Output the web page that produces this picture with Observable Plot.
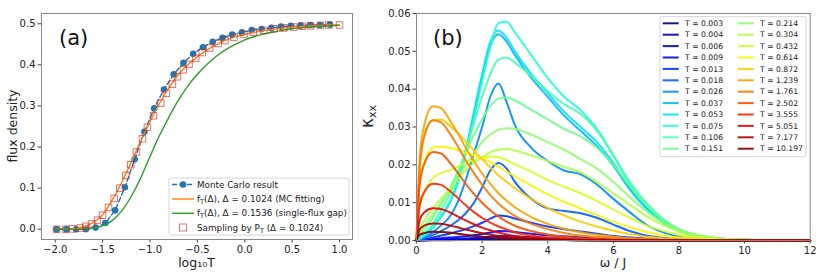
<!DOCTYPE html>
<html><head><meta charset="utf-8">
<script src="https://cdn.jsdelivr.net/npm/d3@7"></script>
<script src="https://cdn.jsdelivr.net/npm/@observablehq/plot@0.6"></script>
<style>
body{margin:0;background:#fff;font-family:"DejaVu Sans",sans-serif;}
#wrap{position:relative;width:830px;height:277px;overflow:hidden;}
#a{position:absolute;left:0;top:0;}
#b{position:absolute;left:365px;top:0;}
</style></head><body><div id="wrap"><div id="a"></div><div id="b"></div></div>
<script>
// ---------- Panel (a) data ----------
const mcLogT = [-1.986,-1.883,-1.780,-1.677,-1.574,-1.471,-1.368,-1.265,-1.162,-1.059,-0.956,-0.853,-0.750,-0.647,-0.544,-0.441,-0.338,-0.235,-0.132,-0.029,0.074,0.177,0.280,0.383,0.486,0.589,0.692,0.795,0.898];
const mcFlux = [0,0,0,0,0.004,0.015,0.046,0.102,0.170,0.237,0.294,0.340,0.377,0.405,0.427,0.443,0.456,0.466,0.474,0.479,0.485,0.487,0.490,0.493,0.495,0.496,0.497,0.497,0.498];
const fitLogT = [-2.0,-1.9,-1.8,-1.7,-1.6,-1.5,-1.4,-1.3,-1.2,-1.1,-1.0,-0.9,-0.8,-0.7,-0.6,-0.5,-0.4,-0.3,-0.2,-0.1,0.0,0.1,0.2,0.3,0.4,0.5,0.6,0.7,0.8,0.9,1.0];
const fitMC = [0.000,0.000,0.001,0.006,0.016,0.035,0.070,0.113,0.162,0.214,0.262,0.306,0.344,0.376,0.400,0.420,0.436,0.449,0.460,0.468,0.474,0.479,0.483,0.487,0.489,0.492,0.493,0.495,0.496,0.497,0.497];
const fitGap = [0,0,0,0.0005,0.003,0.008,0.021,0.044,0.079,0.124,0.177,0.228,0.273,0.314,0.349,0.377,0.401,0.421,0.437,0.450,0.461,0.469,0.475,0.480,0.484,0.488,0.490,0.492,0.494,0.495,0.496];
const sampLogT = [-1.986,-1.888,-1.817,-1.737,-1.677,-1.617,-1.554,-1.501,-1.438,-1.378,-1.319,-1.255,-1.203,-1.143,-1.080,-1.027,-0.964,-0.887,-0.827,-0.764,-0.710,-0.648,-0.588,-0.518,-0.447,-0.370,-0.282,-0.209,-0.114,-0.008,0.090,0.202,0.308,0.413,0.518,0.606,0.694,0.800,0.887,1.000];
const sampFlux = [0.000,0.000,0.001,0.003,0.007,0.013,0.022,0.034,0.053,0.075,0.100,0.131,0.157,0.188,0.220,0.248,0.276,0.307,0.331,0.353,0.371,0.388,0.401,0.416,0.430,0.441,0.452,0.459,0.467,0.474,0.480,0.484,0.488,0.490,0.492,0.494,0.495,0.496,0.497,0.497];
const aXTicks = [-2.0,-1.5,-1.0,-0.5,0.0,0.5,1.0];
const aYTicks = [0.0,0.1,0.2,0.3,0.4,0.5];

// ---------- Panel (b) data ----------
const temps = ["0.003","0.004","0.006","0.009","0.013","0.018","0.026","0.037","0.053","0.075","0.106","0.151","0.214","0.304","0.432","0.614","0.872","1.239","1.761","2.502","3.555","5.051","7.177","10.197"];
const omega = [0,0.1,0.25,0.5,0.75,1,1.25,1.5,1.75,2,2.25,2.5,2.75,3,3.5,4,4.5,5,5.5,6,6.5,7,7.5,8,9,10,12];
// kappa_xx in units of 1e-2
const k003 = [0,0,0.003,0.005,0.007,0.009,0.011,0.013,0.016,0.019,0.023,0.027,0.027,0.025,0.02,0.015,0.011,0.008,0.006,0.004,0.002,0.001,0,0,0,0,0];
const k004 = [0,0.002,0.005,0.01,0.014,0.018,0.022,0.027,0.033,0.04,0.05,0.058,0.057,0.052,0.042,0.032,0.024,0.018,0.013,0.008,0.005,0.003,0.001,0,0,0,0];
const k006 = [0,0.005,0.012,0.022,0.03,0.038,0.046,0.055,0.066,0.08,0.1,0.12,0.118,0.108,0.088,0.068,0.052,0.04,0.03,0.02,0.012,0.007,0.004,0.002,0,0,0];
const k009 = [0,0.01,0.025,0.045,0.062,0.078,0.095,0.115,0.14,0.17,0.21,0.25,0.245,0.225,0.18,0.14,0.11,0.085,0.062,0.042,0.026,0.015,0.008,0.004,0.001,0,0];
const k013 = [0,0.01,0.03,0.08,0.13,0.18,0.24,0.3,0.38,0.47,0.58,0.66,0.64,0.58,0.47,0.37,0.3,0.24,0.18,0.12,0.08,0.05,0.03,0.015,0.005,0,0];
const k018 = [0,0.02,0.06,0.15,0.25,0.37,0.52,0.72,1.0,1.4,1.85,2.05,1.9,1.55,1.1,0.85,0.78,0.72,0.6,0.42,0.25,0.13,0.07,0.035,0.01,0,0];
const k026 = [0,0.03,0.08,0.22,0.4,0.62,1.0,1.6,2.3,3.0,3.8,4.15,3.65,3.05,2.45,2.1,1.85,1.75,1.48,1.1,0.75,0.42,0.22,0.1,0.02,0,0];
const k037 = [0,0.05,0.14,0.34,0.63,0.97,1.5,2.33,3.3,4.3,5.15,5.45,5.25,4.9,4.3,3.8,3.3,2.9,2.5,1.98,1.35,0.85,0.48,0.25,0.06,0.02,0];
const k053 = [0,0.05,0.15,0.35,0.65,1.0,1.55,2.4,3.4,4.4,5.25,5.55,5.35,5.0,4.4,3.9,3.4,3.0,2.6,2.05,1.4,0.88,0.5,0.26,0.06,0.02,0];
const k075 = [0,0.05,0.15,0.35,0.65,1.0,1.5,2.3,3.2,4.2,5.1,5.75,5.78,5.5,4.9,4.3,3.8,3.45,2.95,2.25,1.5,0.95,0.53,0.27,0.07,0.02,0];
const k106 = [0,0.1,0.2,0.45,0.8,1.2,1.7,2.4,3.1,3.8,4.4,4.78,4.84,4.7,4.35,3.95,3.6,3.35,2.9,2.25,1.55,1.0,0.58,0.3,0.08,0.02,0];
const k151 = [0,0.15,0.3,0.6,0.95,1.35,1.8,2.3,2.8,3.2,3.55,3.75,3.78,3.7,3.45,3.2,2.95,2.75,2.45,2.0,1.45,0.95,0.57,0.3,0.08,0.02,0];
const k214 = [0,0.2,0.4,0.7,1.0,1.3,1.65,2.0,2.3,2.6,2.8,2.93,2.97,2.95,2.8,2.6,2.4,2.15,1.9,1.55,1.15,0.78,0.48,0.27,0.08,0.02,0];
const k304 = [0,0.3,0.55,0.85,1.1,1.35,1.6,1.85,2.05,2.2,2.33,2.4,2.42,2.38,2.25,2.1,1.95,1.8,1.55,1.25,0.95,0.65,0.42,0.24,0.07,0.02,0];
const k432 = [0,0.9,1.3,1.65,1.78,1.85,1.95,2.05,2.12,2.18,2.22,2.2,2.12,2.02,1.82,1.6,1.42,1.25,1.05,0.82,0.6,0.4,0.26,0.15,0.04,0.01,0];
const k614 = [0,1.5,2.1,2.45,2.48,2.45,2.4,2.32,2.25,2.18,2.08,1.95,1.82,1.7,1.45,1.22,1.02,0.85,0.67,0.5,0.35,0.23,0.14,0.08,0.02,0,0];
const k872 = [0,1.9,2.8,3.18,3.2,3.05,2.85,2.62,2.38,2.15,1.93,1.72,1.55,1.38,1.1,0.86,0.66,0.5,0.37,0.26,0.17,0.1,0.06,0.03,0.01,0,0];
const k1239 = [0,2.2,3.1,3.55,3.5,3.2,2.85,2.45,2.1,1.77,1.5,1.25,1.05,0.88,0.62,0.44,0.31,0.22,0.15,0.1,0.06,0.04,0.02,0.01,0,0,0];
const k1761 = [0,2.0,2.8,3.18,3.12,2.85,2.5,2.12,1.78,1.47,1.2,0.98,0.8,0.65,0.44,0.3,0.2,0.13,0.09,0.06,0.04,0.02,0.01,0,0,0,0];
const k2502 = [0,1.5,2.05,2.34,2.3,2.08,1.8,1.5,1.23,1.0,0.8,0.63,0.5,0.39,0.25,0.16,0.1,0.06,0.04,0.02,0.01,0,0,0,0,0,0];
const k3555 = [0,0.95,1.3,1.5,1.47,1.32,1.13,0.93,0.75,0.6,0.47,0.37,0.29,0.22,0.13,0.08,0.05,0.03,0.02,0.01,0,0,0,0,0,0,0];
const k5051 = [0,0.55,0.75,0.85,0.83,0.75,0.64,0.53,0.43,0.34,0.27,0.21,0.16,0.12,0.07,0.04,0.025,0.015,0.01,0,0,0,0,0,0,0,0];
const k7177 = [0,0.3,0.4,0.45,0.44,0.4,0.35,0.29,0.24,0.19,0.15,0.12,0.09,0.07,0.04,0.025,0.015,0.01,0,0,0,0,0,0,0,0,0];
const k10197 = [0,0.15,0.2,0.23,0.225,0.21,0.18,0.15,0.125,0.1,0.08,0.065,0.05,0.04,0.025,0.015,0.01,0,0,0,0,0,0,0,0,0,0];
const kxxSeries = [k003,k004,k006,k009,k013,k018,k026,k037,k053,k075,k106,k151,k214,k304,k432,k614,k872,k1239,k1761,k2502,k3555,k5051,k7177,k10197];
const bXTicks = [0,2,4,6,8,10,12];
const bYTicks = [0,0.01,0.02,0.03,0.04,0.05,0.06];

// ---------- styles ----------
function jet(t){
  const seg = (pts)=>{for(let i=1;i<pts.length;i++){if(t<=pts[i][0]){const [x0,y0]=pts[i-1],[x1,y1]=pts[i];return y0+(y1-y0)*(t-x0)/(x1-x0);}}return pts[pts.length-1][1];};
  const r=seg([[0,0],[0.35,0],[0.66,1],[0.89,1],[1,0.5]]);
  const g=seg([[0,0],[0.125,0],[0.375,1],[0.64,1],[0.91,0],[1,0]]);
  const b=seg([[0,0.5],[0.11,1],[0.34,1],[0.65,0],[1,0]]);
  return d3.rgb(r*255,g*255,b*255).formatHex();
}
const jetColors = temps.map((_,i)=>jet(i/(temps.length-1)));
const minus = d => (d<0?"\u2212":"") + Math.abs(d).toFixed(1);
const FONT = "DejaVu Sans";

// ---------- Panel (a) ----------
const mcRows = mcLogT.map((x,i)=>({x, y: mcFlux[i]}));
const fitRows = fitLogT.map((x,i)=>({x, a: fitMC[i], g: fitGap[i]}));
const sampRows = sampLogT.map((x,i)=>({x, y: sampFlux[i]}));

const pa = Plot.plot({
  width: 365, height: 277,
  marginLeft: 41, marginRight: 13, marginTop: 13, marginBottom: 38,
  style: {fontFamily: FONT, fontSize: "10px", color: "#222", background: "white", overflow: "visible"},
  x: {domain: [-2.145, 1.137]},
  y: {domain: [-0.025, 0.525]},
  marks: [
    Plot.axisX({ticks: aXTicks, tickFormat: minus, tickSize: 3.5, tickPadding: 2.5, label: null, stroke: "#444"}),
    Plot.axisY({ticks: aYTicks, tickFormat: d => d.toFixed(1), tickSize: 3.5, tickPadding: 2.5, label: null, stroke: "#444"}),
    Plot.line(mcRows, {x: "x", y: "y", stroke: "#1f77b4", strokeWidth: 1.4, strokeDasharray: "5,2.5"}),
    Plot.dot(mcRows, {x: "x", y: "y", fill: "#1f77b4", r: 3.3}),
    Plot.line(fitRows, {x: "x", y: "a", stroke: "#ff7f0e", strokeWidth: 1.4, curve: "monotone-x"}),
    Plot.line(fitRows, {x: "x", y: "g", stroke: "#2ca02c", strokeWidth: 1.4, curve: "monotone-x"}),
    Plot.dot(sampRows, {x: "x", y: "y", symbol: "square", r: 3.7, stroke: "#d62728", strokeOpacity: 0.65, strokeWidth: 1, fill: "none"}),
    Plot.frame({stroke: "#888"})
  ]
});
document.getElementById("a").appendChild(pa);

{
  const svg = d3.select(pa);
  const g0 = svg.append("g").attr("text-anchor", "start").attr("font-family", FONT);
  g0.append("text").attr("x", 59).attr("y", 45).attr("font-size", 21).attr("fill", "#111").text("(a)");
  g0.append("text").attr("x", 196.5).attr("y", 267).attr("text-anchor", "middle").attr("font-size", 12.5).attr("fill", "#222").text("log\u2081\u2080T");
  g0.append("text").attr("transform", "translate(16.5,126) rotate(-90)").attr("text-anchor", "middle").attr("font-size", 12.5).attr("fill", "#222").text("flux density");
  const lg = g0.append("g").attr("font-size", 8.8).attr("fill", "#222");
  lg.append("rect").attr("x", 169).attr("y", 178).attr("width", 180).attr("height", 57).attr("rx", 2).attr("fill", "white").attr("fill-opacity", 0.85).attr("stroke", "#ccc").attr("stroke-width", 0.8);
  const rows = [184.5, 199, 213.3, 227.5];
  lg.append("line").attr("x1", 172).attr("x2", 194).attr("y1", rows[0]).attr("y2", rows[0]).attr("stroke", "#1f77b4").attr("stroke-width", 1.4).attr("stroke-dasharray", "5,2.5");
  lg.append("circle").attr("cx", 183).attr("cy", rows[0]).attr("r", 3.3).attr("fill", "#1f77b4");
  lg.append("line").attr("x1", 172).attr("x2", 194).attr("y1", rows[1]).attr("y2", rows[1]).attr("stroke", "#ff7f0e").attr("stroke-width", 1.4);
  lg.append("line").attr("x1", 172).attr("x2", 194).attr("y1", rows[2]).attr("y2", rows[2]).attr("stroke", "#2ca02c").attr("stroke-width", 1.4);
  lg.append("rect").attr("x", 179.5).attr("y", rows[3]-3.5).attr("width", 7).attr("height", 7).attr("fill", "none").attr("stroke", "#d62728").attr("stroke-opacity", 0.65);
  lg.append("text").attr("x", 197).attr("y", rows[0]).attr("dy", "0.35em").text("Monte Carlo result");
  const mk = (y, d, rest) => {
    const t = lg.append("text").attr("x", 197).attr("y", y).attr("dy", "0.35em");
    t.append("tspan").text("f");
    t.append("tspan").attr("font-size", 6.5).attr("dy", 2).text("T");
    t.append("tspan").attr("dy", -2).text("(\u0394), \u0394 = " + d + rest);
  };
  mk(rows[1], "0.1024", " (MC fitting)");
  mk(rows[2], "0.1536", " (single-flux gap)");
  const t3 = lg.append("text").attr("x", 197).attr("y", rows[3]).attr("dy", "0.35em");
  t3.append("tspan").text("Sampling by P");
  t3.append("tspan").attr("font-size", 6.5).attr("dy", 2).text("T");
  t3.append("tspan").attr("dy", -2).text(" (\u0394 = 0.1024)");
}

// ---------- Panel (b) ----------
const bRows = [];
kxxSeries.forEach((arr, i) => arr.forEach((k, j) => bRows.push({T: temps[i], w: omega[j], k: k * 0.01})));

const pb = Plot.plot({
  width: 465, height: 277,
  marginLeft: 51, marginRight: 20.3, marginTop: 13, marginBottom: 37,
  style: {fontFamily: FONT, fontSize: "10px", color: "#222", background: "white", overflow: "visible"},
  x: {domain: [0, 12]},
  y: {domain: [0, 0.06]},
  color: {type: "ordinal", domain: temps, range: jetColors},
  marks: [
    Plot.axisX({ticks: bXTicks, tickFormat: d => String(d), tickSize: 3.5, tickPadding: 2.5, label: null, stroke: "#444"}),
    Plot.axisY({ticks: bYTicks, tickFormat: d => d.toFixed(2), tickSize: 3.5, tickPadding: 2.5, label: null, stroke: "#444"}),
    Plot.line(bRows, {x: "w", y: "k", z: "T", stroke: "T", strokeWidth: 2, strokeOpacity: 0.9, curve: "monotone-x"}),
    Plot.frame({stroke: "#888"})
  ]
});
document.getElementById("b").appendChild(pb);

{
  const svg = d3.select(pb);
  const g0 = svg.append("g").attr("text-anchor", "start").attr("font-family", FONT);
  g0.append("text").attr("x", 68).attr("y", 45).attr("font-size", 21).attr("fill", "#111").text("(b)");
  g0.append("text").attr("x", 248).attr("y", 267).attr("text-anchor", "middle").attr("font-size", 12.5).attr("fill", "#222").text("\u03C9 / J");
  const yl = g0.append("text").attr("transform", "translate(8,116.5) rotate(-90)").attr("text-anchor", "middle").attr("fill", "#222");
  yl.append("tspan").attr("font-size", 17).text("\u03BA");
  yl.append("tspan").attr("font-size", 11).attr("dy", 2.5).text("xx");
  const lg = g0.append("g").attr("font-size", 7.7).attr("fill", "#222");
  lg.append("rect").attr("x", 295).attr("y", 16.7).attr("width", 146).attr("height", 140).attr("rx", 2).attr("fill", "white").attr("fill-opacity", 0.85).attr("stroke", "#ccc").attr("stroke-width", 0.8);
  temps.forEach((t, i) => {
    const col = Math.floor(i / 12), row = i % 12;
    const y = 23.3 + row * 11.4;
    const sx = col ? 372.7 : 297.7;
    lg.append("line").attr("x1", sx).attr("x2", sx + 16).attr("y1", y).attr("y2", y).attr("stroke", jetColors[i]).attr("stroke-width", 2).attr("stroke-opacity", 0.9);
    lg.append("text").attr("x", sx + 22.3).attr("y", y).attr("dy", "0.35em").text("T = " + t);
  });
}
</script>
</body></html>
